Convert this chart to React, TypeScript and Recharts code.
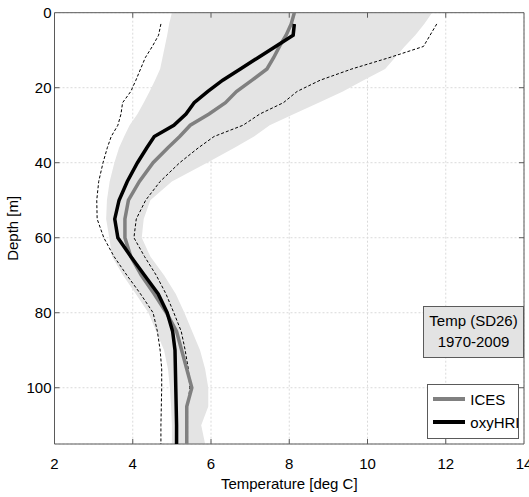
import {
  ComposedChart,
  Line,
  Area,
  XAxis,
  YAxis,
  CartesianGrid,
  ReferenceLine,
  ReferenceArea,
} from 'recharts';

const depth = [0, 3, 6, 9, 12, 15, 18, 21, 24, 27, 30, 33, 36, 40, 45, 50, 55, 60, 65, 70, 75, 80, 85, 90, 95, 100, 105, 110, 115];

const ices = [8.13, 8.05, 7.92, 7.75, 7.6, 7.43, 7.05, 6.65, 6.37, 5.95, 5.47, 5.2, 4.9, 4.52, 4.17, 3.89, 3.8, 3.8, 3.95, 4.22, 4.55, 4.86, 5.12, 5.25, 5.38, 5.51, 5.38, 5.38, 5.38];

const oxyHRI = [null, 8.13, 8.1, 7.65, 7.2, 6.75, 6.3, 5.92, 5.57, 5.36, 5.05, 4.55, 4.36, 4.12, 3.86, 3.65, 3.54, 3.62, 3.95, 4.3, 4.65, 4.88, 5.02, 5.08, 5.09, 5.1, 5.11, 5.12, 5.12];

const envMin = [null, 4.72, 4.66, 4.5, 4.32, 4.2, 4.08, 3.95, 3.74, 3.7, 3.62, 3.45, 3.35, 3.24, 3.13, 3.08, 3.09, 3.26, 3.52, 3.85, 4.2, 4.52, 4.63, 4.7, 4.74, 4.74, 4.73, 4.72, 4.72];

const envMax = [null, 11.77, 11.6, 11.43, 10.55, 9.6, 8.79, 8.2, 7.85, 7.25, 6.82, 6.08, 5.68, 5.2, 4.7, 4.33, 4.09, 4.03, 4.3, 4.6, 4.85, 5.05, 5.24, 5.34, 5.42, 5.46, 5.4, 5.4, 5.4];

const bandLow = [5.0, 4.93, 4.88, 4.82, 4.76, 4.7, 4.57, 4.43, 4.28, 4.12, 3.92, 3.78, 3.65, 3.53, 3.41, 3.34, 3.32, 3.4, 3.47, 3.75, 4.08, 4.4, 4.6, 4.8, 4.9, 4.95, 4.98, 5.0, 5.0];

const bandHigh = [11.65, 11.45, 11.22, 10.95, 10.7, 10.45, 9.9, 9.37, 8.75, 8.12, 7.5, 7.1, 6.6, 5.9, 5.0, 4.45, 4.28, 4.23, 4.45, 4.8, 5.1, 5.32, 5.52, 5.72, 5.85, 5.93, 5.93, 5.75, 5.85];

const tempTicks = [2, 4, 6, 8, 10, 12, 14];
const depthTicks = [0, 20, 40, 60, 80, 100];

const data = depth.map((d, i) => ({
  depth: d,
  ices: ices[i],
  oxy: oxyHRI[i],
  min: envMin[i],
  max: envMax[i],
  band: [bandLow[i], bandHigh[i]],
}));

const font = '"Liberation Sans", Arial, sans-serif';
const boxColor = '#5a5a5a';

function XLabel(props: any) {
  const vb = props.viewBox;
  return (
    <text x={vb.x + vb.width / 2} y={489} textAnchor="middle" fontSize={15} fontFamily={font} fill="#000">
      Temperature [deg C]
    </text>
  );
}

function YLabel() {
  const cy = 12.7 + (444 - 12.7) / 2;
  return (
    <text
      x={18}
      y={cy}
      transform={`rotate(-90, 18, ${cy})`}
      textAnchor="middle"
      fontSize={15}
      fontFamily={font}
      fill="#000"
    >
      Depth [m]
    </text>
  );
}

export default function App() {
  const innerX = tempTicks.slice(1, -1);
  const innerY = depthTicks.slice(1);
  return (
    <div style={{ position: 'absolute', left: 0, top: 0, width: 529, height: 497, background: '#fff' }}>
      <ComposedChart
        width={529}
        height={497}
        data={data}
        layout="vertical"
        margin={{ top: 12.7, right: 5, bottom: 13, left: 0 }}
      >
        <CartesianGrid stroke="#dadada" strokeDasharray="2 2" />
        <XAxis
          type="number"
          dataKey="ices"
          domain={[2, 14]}
          ticks={tempTicks}
          interval={0}
          height={40}
          axisLine={false}
          tickLine={false}
          tickSize={0}
          tickMargin={14.3}
          tick={{ fontSize: 15, fontFamily: font, fill: '#000' }}
          label={<XLabel />}
        />
        <YAxis
          type="number"
          dataKey="depth"
          domain={[0, 115]}
          ticks={depthTicks}
          interval={0}
          width={54.5}
          axisLine={false}
          tickLine={false}
          tickSize={0}
          tickMargin={3}
          tick={{ fontSize: 15, fontFamily: font, fill: '#000' }}
          label={<YLabel />}
        />
        <Area
          dataKey="band"
          stroke="none"
          fill="#e4e4e4"
          fillOpacity={1}
          isAnimationActive={false}
          type="linear"
        />
        <Line dataKey="min" stroke="#000" strokeWidth={1} strokeDasharray="3 2" dot={false} type="linear" isAnimationActive={false} />
        <Line dataKey="max" stroke="#000" strokeWidth={1} strokeDasharray="3 2" dot={false} type="linear" isAnimationActive={false} />
        <Line dataKey="ices" stroke="#808080" strokeWidth={3.5} dot={false} type="linear" isAnimationActive={false} />
        <Line dataKey="oxy" stroke="#000" strokeWidth={3.5} dot={false} type="linear" isAnimationActive={false} />
        {innerX.map((t) => (
          <ReferenceLine key={'b' + t} segment={[{ x: t, y: 115 }, { x: t, y: 113.67 }]} stroke={boxColor} />
        ))}
        {innerX.map((t) => (
          <ReferenceLine key={'t' + t} segment={[{ x: t, y: 0 }, { x: t, y: 1.33 }]} stroke={boxColor} />
        ))}
        {innerY.map((d) => (
          <ReferenceLine key={'l' + d} segment={[{ x: 2, y: d }, { x: 2.128, y: d }]} stroke={boxColor} />
        ))}
        {innerY.map((d) => (
          <ReferenceLine key={'r' + d} segment={[{ x: 14, y: d }, { x: 13.872, y: d }]} stroke={boxColor} />
        ))}
        <ReferenceArea x1={2} x2={14} y1={0} y2={115} fill="none" stroke={boxColor} strokeWidth={1} />
      </ComposedChart>

      <div
        style={{
          position: 'absolute',
          left: 423.3,
          top: 305.7,
          width: 100.4,
          height: 52.6,
          boxSizing: 'border-box',
          background: '#e3e3e3',
          border: `1px solid ${boxColor}`,
          fontFamily: font,
          fontSize: 15,
          lineHeight: '20.7px',
          textAlign: 'center',
          paddingTop: 4.5,
          color: '#000',
        }}
      >
        <div>Temp (SD26)</div>
        <div>1970-2009</div>
      </div>

      <div
        style={{
          position: 'absolute',
          left: 427.3,
          top: 384.3,
          width: 92,
          height: 54.7,
          boxSizing: 'border-box',
          background: '#fff',
          border: `1px solid ${boxColor}`,
          fontFamily: font,
          fontSize: 15,
          color: '#000',
        }}
      >
        {[
          { name: 'ICES', color: '#808080' },
          { name: 'oxyHRI', color: '#000' },
        ].map((s, i) => (
          <div
            key={s.name}
            style={{ position: 'absolute', left: 5, top: 4 + i * 23, height: 20, display: 'flex', alignItems: 'center' }}
          >
            <div style={{ width: 32, height: 4, background: s.color }} />
            <span style={{ marginLeft: 5 }}>{s.name}</span>
          </div>
        ))}
      </div>
    </div>
  );
}
